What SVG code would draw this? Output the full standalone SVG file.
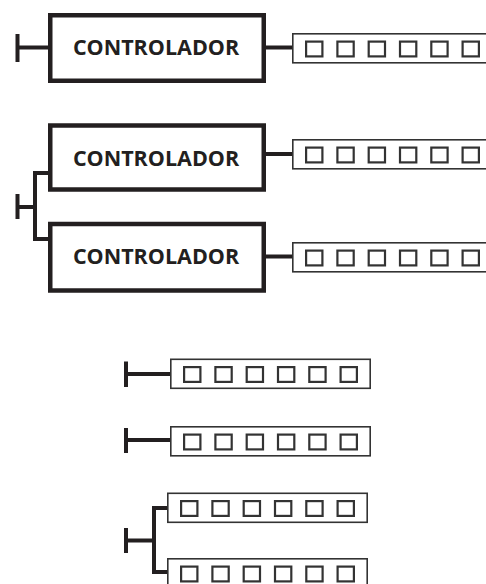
<svg xmlns="http://www.w3.org/2000/svg" width="486" height="584" viewBox="0 0 486 584">
<style>
.ctrl{fill:#fff;stroke:#231f20;stroke-width:4.5}
.lbl{font-family:"Open Sans","Liberation Sans",sans-serif;font-weight:bold;font-size:21.5px;fill:#231f20;text-anchor:middle}
.wire{fill:none;stroke:#231f20;stroke-width:4}
.sbox{fill:#fff;stroke:#333;stroke-width:1.6}
.led{fill:#fff;stroke:#333;stroke-width:2.2}
</style>
<defs>
<g id="strip">
<rect class="sbox" x="0.8" y="0.8" width="199.4" height="29"/>
<rect class="led" x="14.1" y="8.6" width="16.3" height="14.8"/>
<rect class="led" x="45.4" y="8.6" width="16.3" height="14.8"/>
<rect class="led" x="76.7" y="8.6" width="16.3" height="14.8"/>
<rect class="led" x="108" y="8.6" width="16.3" height="14.8"/>
<rect class="led" x="139.3" y="8.6" width="16.3" height="14.8"/>
<rect class="led" x="170.6" y="8.6" width="16.3" height="14.8"/>
</g>
</defs>
<g id="connectors">
<path class="wire" d="M17.5 34V62M17.5 47.5H48M266 47.5H292"/>
<path class="wire" d="M17.5 194V219M17.5 207H35M48 173H35V239H48M266 154H292M266 256.5H292"/>
<path class="wire" d="M126 361.5V387M126 374H170"/>
<path class="wire" d="M126 428V453M126 440H170"/>
<path class="wire" d="M126 528V553M126 540.5H154M167 508H154V572H167"/>
</g>
<g id="controller1">
<rect class="ctrl" x="50.25" y="15.25" width="213.5" height="65.5"/>
<text class="lbl" x="156" y="55.2">CONTROLADOR</text>
</g>
<g id="controller2">
<rect class="ctrl" x="50.25" y="125.5" width="213.5" height="64"/>
<text class="lbl" x="156" y="166">CONTROLADOR</text>
</g>
<g id="controller3">
<rect class="ctrl" x="50.25" y="224" width="213.5" height="66.5"/>
<text class="lbl" x="156" y="264.4">CONTROLADOR</text>
</g>
<g id="strip1"><use href="#strip" x="292" y="33"/></g>
<g id="strip2"><use href="#strip" x="292" y="139"/></g>
<g id="strip3"><use href="#strip" x="292" y="242"/></g>
<g id="strip4"><use href="#strip" x="170" y="358.5"/></g>
<g id="strip5"><use href="#strip" x="170" y="426"/></g>
<g id="strip6"><use href="#strip" x="167" y="492.5"/></g>
<g id="strip7"><use href="#strip" x="167" y="558"/></g>
</svg>
